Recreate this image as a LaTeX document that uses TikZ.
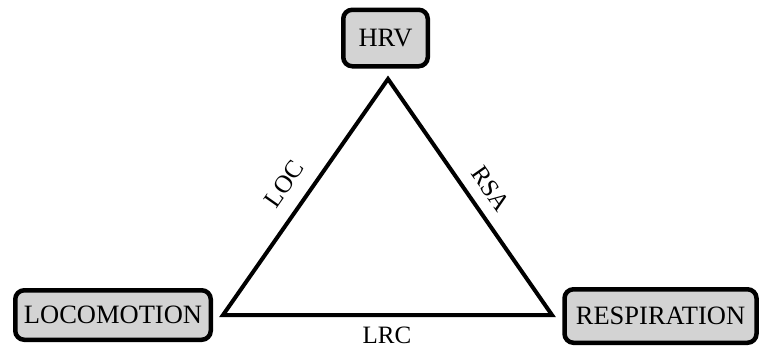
\documentclass[tikz,border=0pt]{standalone}
\usepackage{fontspec}
\setmainfont{Liberation Serif}
\begin{document}
\begin{tikzpicture}[x=1pt,y=-1pt,
  box/.style={draw=black, line width=4.5pt, rounded corners=9pt, fill=boxgray, inner sep=0pt, font=\fontsize{26.5}{30}\selectfont},
  edge/.style={line width=4pt, line join=miter},
  lbl/.style={font=\fontsize{25}{30}\selectfont, inner sep=0pt}]
\definecolor{boxgray}{HTML}{D3D3D3}
\useasboundingbox (0,0) rectangle (765,349);
\node[box, minimum width=84.5pt, minimum height=56.5pt] (hrv) at (385.5,38) {HRV};
\node[box, minimum width=195.5pt, minimum height=49.5pt] (loco) at (113,315) {LOCOMOTION};
\node[box, minimum width=192pt, minimum height=53.5pt] (resp) at (660.5,316) {RESPIRATION};
\coordinate (top) at (388,79);
\coordinate (left) at (223,315);
\coordinate (right) at (552,315);
\draw[edge] (left) -- (top) -- (right) -- cycle;
\node[lbl, rotate=55] (loc) at (284,184) {LOC};
\node[lbl, rotate=-55] (rsa) at (491,189) {RSA};
\node[lbl] (lrc) at (387,335) {LRC};
\end{tikzpicture}
\end{document}
